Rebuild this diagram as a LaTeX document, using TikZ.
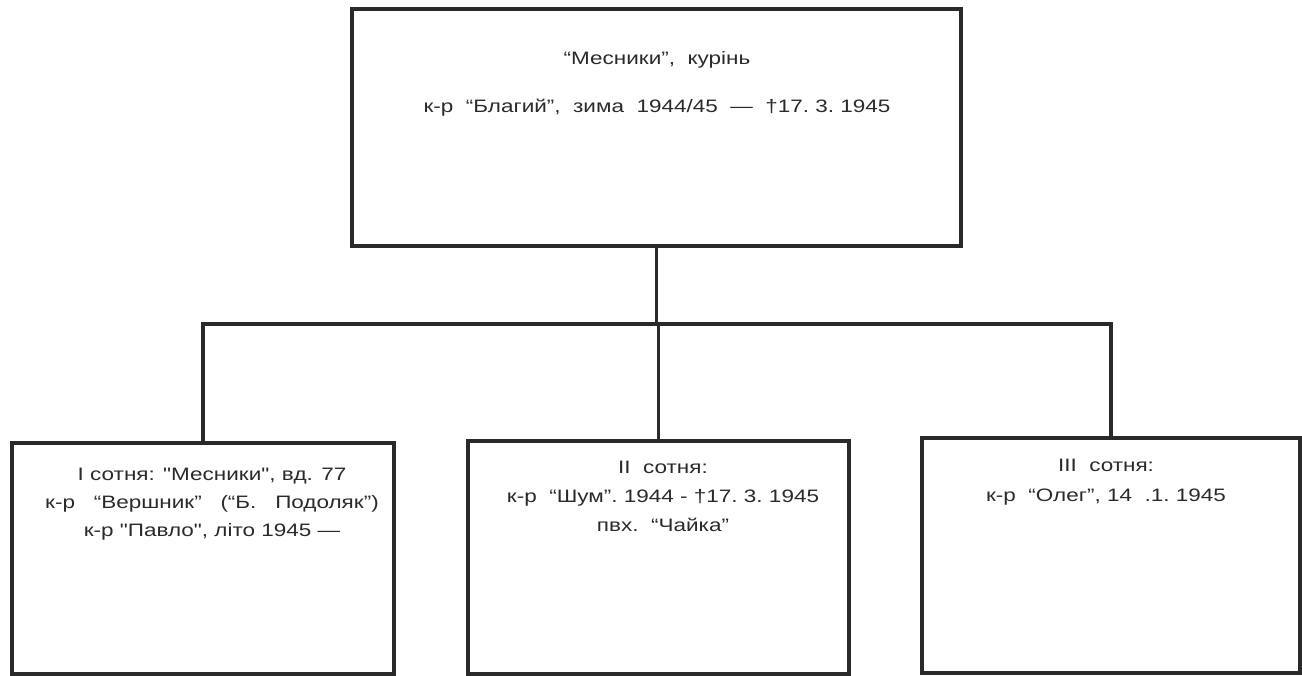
\documentclass[tikz,border=0pt]{standalone}
\usepackage{fontspec}
\setmainfont{Liberation Sans}[FakeStretch=1.25, Ligatures=TeXOff]
\definecolor{ink}{HTML}{2A2A2A}
\begin{document}
\begin{tikzpicture}[x=1pt,y=-1pt,
  box/.style={draw=ink, line width=3.5pt, inner sep=0pt, rectangle},
  link/.style={draw=ink, line width=3.5pt, line cap=rect},
  txt/.style={align=center, text=ink, inner sep=0pt, font=\fontsize{18}{#1}\selectfont},
  txt/.default=29]
\useasboundingbox (0,0) rectangle (1302,676);
\node[box, minimum width=609pt, minimum height=237pt] (top) at (656.5,127.5) {};
\node[box, minimum width=382pt, minimum height=231pt] (left) at (203,558.5) {};
\node[box, minimum width=381pt, minimum height=233pt] (mid) at (658.5,557.5) {};
\node[box, minimum width=378pt, minimum height=235pt] (right) at (1111,555.5) {};
\coordinate (j) at (655,324);
\draw[link] (top.south) -- (top.south |- j);
\draw[link] (left.north) -- (left.north |- j) -- (right.north |- j) -- (right.north);
\draw[link] (mid.north) -- (mid.north |- j);
\node[txt=48] (toptext) at (657,84) {“Месники”,\ \ курінь\\к-р\ \ “Благий”,\ \ зима\ \ 1944/45\ \ —\ \ †17.\ 3.\ 1945};
\node[txt=28] (lefttext) at (212,504) {I сотня: "Месники", вд. 77\hspace{12pt}\\к-р\ \ \ “Вершник”\ \ \ (“Б.\ \ \ Подоляк”)\\к-р "Павло", літо 1945 —\hspace{12pt}};
\node[txt=29] (midtext) at (663,496) {II\ \ сотня:\\к-р\ \ “Шум”.\ 1944 - †17.\ 3.\ 1945\\пвх.\ \ “Чайка”};
\node[txt=30] (righttext) at (1106,482) {III\ \ сотня:\\к-р\ \ “Олег”,\ 14\ \ .1.\ 1945};
\end{tikzpicture}
\end{document}
